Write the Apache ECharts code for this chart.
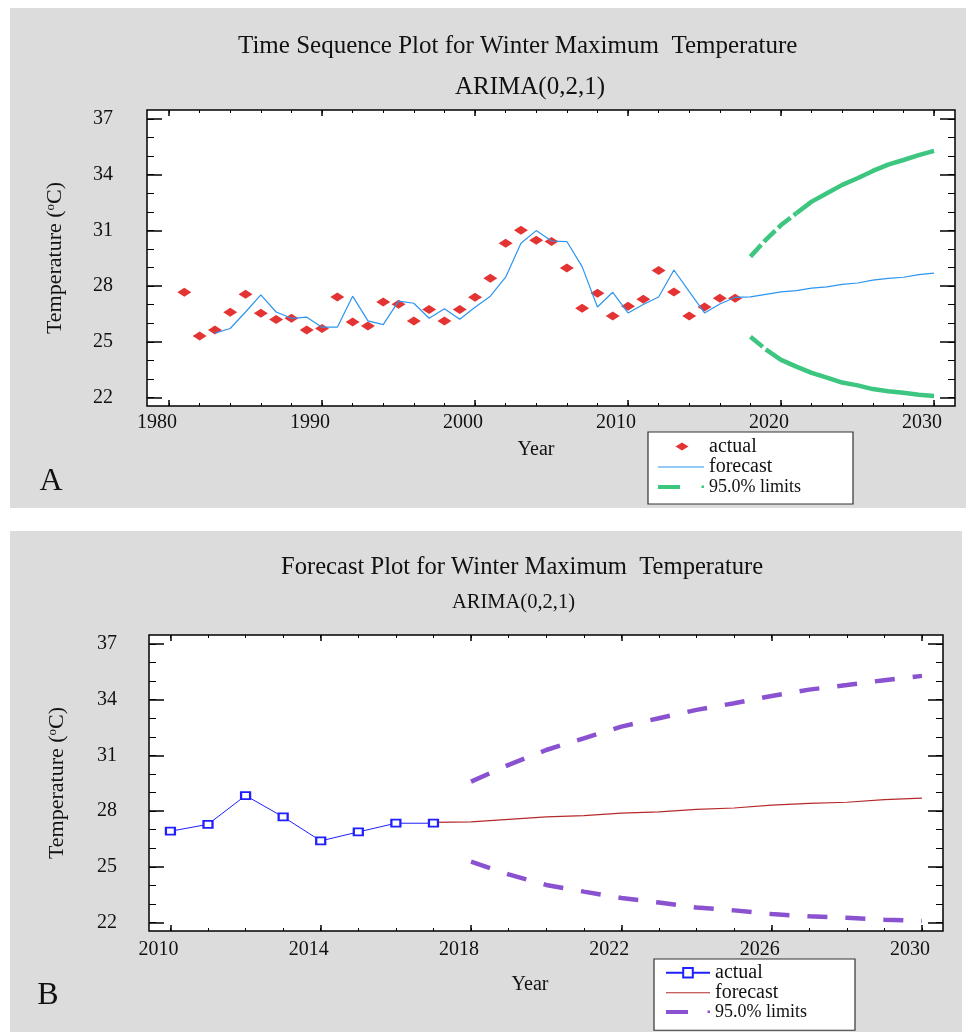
<!DOCTYPE html>
<html>
<head>
<meta charset="utf-8">
<title>Winter Maximum Temperature - ARIMA(0,2,1)</title>
<script src="https://cdn.jsdelivr.net/npm/echarts@6.0.0/dist/echarts.min.js"></script>
<style>
  html, body { margin: 0; padding: 0; background: #fff; }
  #main { width: 968px; height: 1032px; }
</style>
</head>
<body>
<div id="main"></div>
<script>
const chart = echarts.init(document.getElementById("main"));

// ---- data ----
const actualYears = [1981, 1982, 1983, 1984, 1985, 1986, 1987, 1988, 1989, 1990,
  1991, 1992, 1993, 1994, 1995, 1996, 1997, 1998, 1999, 2000,
  2001, 2002, 2003, 2004, 2005, 2006, 2007, 2008, 2009, 2010,
  2011, 2012, 2013, 2014, 2015, 2016, 2017];
const actualTemp = [27.67, 25.32, 25.64, 26.59, 27.56, 26.54, 26.20, 26.27, 25.64, 25.72,
  27.42, 26.07, 25.86, 27.15, 27.03, 26.13, 26.74, 26.13, 26.74, 27.40,
  28.42, 30.31, 31.01, 30.47, 30.40, 28.98, 26.81, 27.62, 26.40, 26.92,
  27.29, 28.84, 27.69, 26.40, 26.88, 27.35, 27.35];

const forecastYears = [1983, 1984, 1985, 1986, 1987, 1988, 1989, 1990, 1991, 1992,
  1993, 1994, 1995, 1996, 1997, 1998, 1999, 2000, 2001, 2002,
  2003, 2004, 2005, 2006, 2007, 2008, 2009, 2010, 2011, 2012,
  2013, 2014, 2015, 2016, 2017, 2018, 2019, 2020, 2021, 2022,
  2023, 2024, 2025, 2026, 2027, 2028, 2029, 2030];
const forecastTemp = [25.47, 25.72, 26.61, 27.53, 26.61, 26.27, 26.33, 25.79, 25.79, 27.46,
  26.13, 25.93, 27.19, 27.08, 26.27, 26.79, 26.22, 26.86, 27.46, 28.48,
  30.31, 30.99, 30.43, 30.40, 29.05, 26.88, 27.67, 26.56, 27.01, 27.42,
  28.87, 27.71, 26.56, 27.04, 27.40, 27.42, 27.56, 27.69, 27.76, 27.89,
  27.96, 28.10, 28.17, 28.32, 28.42, 28.48, 28.62, 28.70];

const limitYears = [2018, 2019, 2020, 2021, 2022, 2023, 2024, 2025, 2026, 2027, 2028, 2029, 2030];
const upperLimit = [29.59, 30.49, 31.29, 31.92, 32.55, 33.00, 33.45, 33.81, 34.20, 34.54, 34.79, 35.05, 35.28];
const lowerLimit = [25.28, 24.60, 24.03, 23.67, 23.33, 23.08, 22.81, 22.66, 22.46, 22.34, 22.26, 22.16, 22.09];

// tick labels
const yMajor = [22, 25, 28, 31, 34, 37];
const yMinor = [22, 23, 24, 25, 26, 27, 28, 29, 30, 31, 32, 33, 34, 35, 36, 37];
const xMajorA = [1980, 1990, 2000, 2010, 2020, 2030];
const xMinorA = [1980, 1982, 1984, 1986, 1988, 1990, 1992, 1994, 1996, 1998, 2000, 2002, 2004,
  2006, 2008, 2010, 2012, 2014, 2016, 2018, 2020, 2022, 2024, 2026, 2028, 2030];
const xMajorB = [2010, 2014, 2018, 2022, 2026, 2030];
const xMinorB = [2010, 2011, 2012, 2013, 2014, 2015, 2016, 2017, 2018, 2019, 2020,
  2021, 2022, 2023, 2024, 2025, 2026, 2027, 2028, 2029, 2030];

const FONT = "Liberation Serif";
const INK = "#111";

const pairs = (xs, ys) => xs.map((x, i) => [x, ys[i]]);

// one grid gets 4 x axes and 4 y axes: major/minor ticks on every side, all pointing in
const xAxes = (grid, min, max, majors, minors, margin) => {
  const base = { type: "value", gridIndex: grid, min: min, max: max,
    axisLine: { show: false }, splitLine: { show: false } };
  const tick = (vals, len, w) => ({ inside: true, length: len, customValues: vals,
    lineStyle: { color: "#000", width: w } });
  return [
    Object.assign({}, base, { position: "bottom", axisTick: tick(majors, 6, 1.5),
      axisLabel: { customValues: majors, margin: margin, fontFamily: FONT, fontSize: 20,
        color: INK, padding: [0, 24, 0, 0], formatter: (v) => String(v) } }),
    Object.assign({}, base, { position: "bottom", axisTick: tick(minors, 3, 1), axisLabel: { show: false } }),
    Object.assign({}, base, { position: "top", axisTick: tick(majors, 6, 1.5), axisLabel: { show: false } }),
    Object.assign({}, base, { position: "top", axisTick: tick(minors, 3, 1), axisLabel: { show: false } }),
  ];
};

const yName = "{t|Temperature (}{s|o}{t|C)}";
const yAxes = (grid, margin) => {
  const base = { type: "value", gridIndex: grid, min: 21.55, max: 37.48,
    axisLine: { show: false }, splitLine: { show: false } };
  const tick = (vals, len, w) => ({ inside: true, length: len, customValues: vals,
    lineStyle: { color: "#000", width: w } });
  return [
    Object.assign({}, base, { position: "left", axisTick: tick(yMajor, 15, 1.5),
      axisLabel: { customValues: yMajor, margin: margin, fontFamily: FONT, fontSize: 20,
        color: INK, padding: [5, 0, 0, 0] },
      name: yName, nameLocation: "middle", nameGap: 80,
      nameTextStyle: { fontFamily: FONT, fontSize: 22, color: INK,
        rich: { t: { fontFamily: FONT, fontSize: 22, color: INK },
                s: { fontFamily: FONT, fontSize: 13, color: INK, padding: [0, 0, 10, 0] } } } }),
    Object.assign({}, base, { position: "left", axisTick: tick(yMinor, 7, 1), axisLabel: { show: false } }),
    Object.assign({}, base, { position: "right", axisTick: tick(yMajor, 15, 1.5), axisLabel: { show: false } }),
    Object.assign({}, base, { position: "right", axisTick: tick(yMinor, 7, 1), axisLabel: { show: false } }),
  ];
};

const titleStyle = (size) => ({ fontFamily: FONT, fontSize: size, fontWeight: "normal", color: INK });

const GREEN = "#3dc680";
const PURPLE = "#8a52d0";

const legendNames = { actual_B: "actual", forecast_B: "forecast", limits_B: "95.0% limits" };

option = {
  animation: false,
  backgroundColor: "#fff",
  title: [
    { text: "Time Sequence Plot for Winter Maximum  Temperature", left: 238, top: 34, padding: 0, textStyle: titleStyle(25) },
    { text: "ARIMA(0,2,1)", left: 455, top: 75, padding: 0, textStyle: titleStyle(25) },
    { text: "Forecast Plot for Winter Maximum  Temperature", left: 281, top: 555, padding: 0, textStyle: titleStyle(24.6) },
    { text: "ARIMA(0,2,1)", left: 452, top: 592, padding: 0, textStyle: titleStyle(20.5) },
  ],
  graphic: [
    { type: "rect", z: -10, shape: { x: 10, y: 8, width: 956, height: 500 }, style: { fill: "#dcdcdc" } },
    { type: "rect", z: -10, shape: { x: 10, y: 531, width: 952, height: 501 }, style: { fill: "#dcdcdc" } },
    { type: "text", x: 51, y: 482, style: { text: "A", font: '32px "Liberation Serif"', fill: INK,
      textAlign: "center", textVerticalAlign: "middle" } },
    { type: "text", x: 48, y: 996, style: { text: "B", font: '32px "Liberation Serif"', fill: INK,
      textAlign: "center", textVerticalAlign: "middle" } },
    { type: "text", x: 536, y: 450, style: { text: "Year", font: '20px "Liberation Serif"', fill: INK,
      textAlign: "center", textVerticalAlign: "middle" } },
    { type: "text", x: 530, y: 985, style: { text: "Year", font: '20px "Liberation Serif"', fill: INK,
      textAlign: "center", textVerticalAlign: "middle" } },
  ],
  grid: [
    { left: 147, top: 110, width: 808, height: 296, show: true, backgroundColor: "#fff", borderColor: "#000", borderWidth: 1.5 },
    { left: 149, top: 635, width: 794, height: 296, show: true, backgroundColor: "#fff", borderColor: "#000", borderWidth: 1.5 },
  ],
  xAxis: xAxes(0, 1978.56, 2031.37, xMajorA, xMinorA, 7)
    .concat(xAxes(1, 2009.43, 2030.56, xMajorB, xMinorB, 9)),
  yAxis: yAxes(0, 34).concat(yAxes(1, 32)),
  legend: [
    {
      orient: "vertical", left: 648, top: 432, padding: [4.5, 52, 7.5, 10],
      itemWidth: 46, itemHeight: 12, itemGap: 0.5, selectedMode: false,
      backgroundColor: "#fff", borderColor: "#333", borderWidth: 1.2,
      itemStyle: { borderWidth: 0 },
      textStyle: { fontFamily: FONT, fontSize: 20, lineHeight: 19, color: INK },
      data: [
        { name: "actual", icon: "path://M0,0M46,12M17.5,6L24,2L30.5,6L24,10Z" },
        { name: "forecast", icon: "path://M0,0M46,12M0,5.4L46,5.4L46,6.6L0,6.6Z" },
        { name: "95.0% limits", icon: "path://M0,0M46,12M0,4L22,4L22,8L0,8ZM43.5,4.5L46,4.5L46,7L43.5,7Z",
          textStyle: { fontSize: 18, lineHeight: 19 } },
      ],
    },
    {
      orient: "vertical", left: 654, top: 959, padding: [3.75, 48, 9, 11],
      itemWidth: 44, itemHeight: 12, itemGap: 0, selectedMode: false,
      backgroundColor: "#fff", borderColor: "#333", borderWidth: 1.2,
      itemStyle: { borderWidth: 0 },
      textStyle: { fontFamily: FONT, fontSize: 20, lineHeight: 18.5, color: INK },
      formatter: (name) => legendNames[name],
      data: [
        { name: "actual_B" },
        { name: "forecast_B", icon: "path://M0,0M44,12M0,5.4L44,5.4L44,6.6L0,6.6Z" },
        { name: "limits_B", icon: "path://M0,0M44,12M0,4L22,4L22,8L0,8ZM41.5,4.5L44,4.5L44,7L41.5,7Z",
          textStyle: { fontSize: 18, lineHeight: 18.5 } },
      ],
    },
  ],
  series: [
    // A: time sequence plot
    { name: "actual", type: "scatter", xAxisIndex: 0, yAxisIndex: 0, symbol: "diamond", symbolSize: [14, 9],
      itemStyle: { color: "#dd0000" }, data: pairs(actualYears, actualTemp) },
    { name: "forecast", type: "line", xAxisIndex: 0, yAxisIndex: 0, symbol: "none",
      itemStyle: { color: "#2b95f0" }, lineStyle: { color: "#2b95f0", width: 1.2 },
      data: pairs(forecastYears, forecastTemp) },
    // limits: broken start, then solid
    { name: "95.0% limits", type: "line", xAxisIndex: 0, yAxisIndex: 0, symbol: "none",
      itemStyle: { color: GREEN }, lineStyle: { color: GREEN, width: 4.5, type: [16, 4] },
      data: pairs(limitYears.slice(0, 4), upperLimit.slice(0, 4)) },
    { name: "95.0% limits", type: "line", xAxisIndex: 0, yAxisIndex: 0, symbol: "none",
      itemStyle: { color: GREEN }, lineStyle: { color: GREEN, width: 4.5 },
      data: pairs(limitYears.slice(3), upperLimit.slice(3)) },
    { name: "95.0% limits", type: "line", xAxisIndex: 0, yAxisIndex: 0, symbol: "none",
      itemStyle: { color: GREEN }, lineStyle: { color: GREEN, width: 4.5, type: [16, 4] },
      data: pairs(limitYears.slice(0, 2), lowerLimit.slice(0, 2)) },
    { name: "95.0% limits", type: "line", xAxisIndex: 0, yAxisIndex: 0, symbol: "none",
      itemStyle: { color: GREEN }, lineStyle: { color: GREEN, width: 4.5 },
      data: pairs(limitYears.slice(1), lowerLimit.slice(1)) },

    // B: forecast plot (from 2010)
    { name: "actual_B", type: "line", xAxisIndex: 4, yAxisIndex: 4, symbol: "emptyRect", symbolSize: [9, 7],
      itemStyle: { color: "#1f1fff", borderWidth: 1.2 }, lineStyle: { color: "#1f1fff", width: 1 },
      data: pairs(actualYears.slice(29), actualTemp.slice(29)) },
    { name: "forecast_B", type: "line", xAxisIndex: 4, yAxisIndex: 4, symbol: "none",
      itemStyle: { color: "#b52a2a" }, lineStyle: { color: "#b52a2a", width: 1.2 },
      data: pairs(forecastYears.slice(34), forecastTemp.slice(34)) },
    { name: "limits_B", type: "line", xAxisIndex: 4, yAxisIndex: 4, symbol: "none",
      itemStyle: { color: PURPLE }, lineStyle: { color: PURPLE, width: 4.5, type: [20, 18] },
      data: pairs(limitYears, upperLimit) },
    { name: "limits_B", type: "line", xAxisIndex: 4, yAxisIndex: 4, symbol: "none",
      itemStyle: { color: PURPLE }, lineStyle: { color: PURPLE, width: 4.5, type: [20, 18] },
      data: pairs(limitYears, lowerLimit) },
  ],
};

chart.setOption(option);
</script>
</body>
</html>
